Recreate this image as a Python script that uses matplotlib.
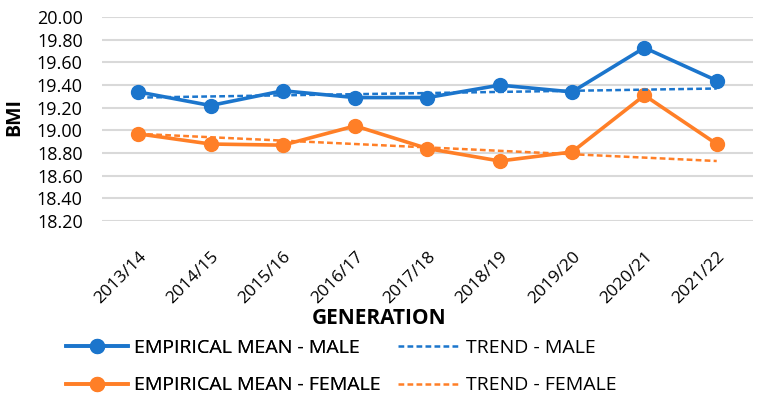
import matplotlib.pyplot as plt
from matplotlib.lines import Line2D

generations = ['2013/14', '2014/15', '2015/16', '2016/17', '2017/18',
               '2018/19', '2019/20', '2020/21', '2021/22']
male_mean = [19.34, 19.22, 19.35, 19.29, 19.29, 19.40, 19.34, 19.73, 19.44]
female_mean = [18.97, 18.88, 18.87, 19.04, 18.84, 18.73, 18.81, 19.31, 18.88]
# trend line values at first and last generation
trend_male = [19.29, 19.37]
trend_female = [18.97, 18.73]

blue = '#1B75CC'
orange = '#FF7F27'
font = ['Open Sans', 'DejaVu Sans']
dash = (0, (2.3, 1.3))

fig = plt.figure(figsize=(7.62, 3.99), dpi=100)
ax = fig.add_axes([0.134, 0.446, 0.854, 0.511])

x = list(range(len(generations)))
ax.plot(x, male_mean, color=blue, lw=2.6, marker='o', ms=10, zorder=3)
ax.plot(x, female_mean, color=orange, lw=2.6, marker='o', ms=10, zorder=3)
ax.plot([x[0], x[-1]], trend_male, color=blue, lw=1.8, ls=dash, zorder=4)
ax.plot([x[0], x[-1]], trend_female, color=orange, lw=1.8, ls=dash, zorder=4)

ax.set_xlim(-0.5, len(generations) - 0.5)
ax.set_ylim(18.2, 20.0)
ax.set_yticks([18.2 + 0.2 * i for i in range(10)])
ax.set_yticklabels(['%.2f' % (18.2 + 0.2 * i) for i in range(10)], family=font, fontsize=13)
ax.set_xticks(x)
ax.set_xticklabels(generations, rotation=45, ha='right', rotation_mode='anchor',
                   family=font, fontsize=12.5)
ax.tick_params(axis='y', length=0, pad=14)
ax.grid(axis='y', color='#d9d9d9', lw=1.5, zorder=0)
ax.tick_params(axis='x', length=0, pad=20)
for s in ax.spines.values():
    s.set_visible(False)

fig.text(14 / 762, 1 - 117 / 399, 'BMI', family=font, fontsize=14, fontweight='bold',
         rotation=90, ha='center', va='center')
fig.text(0.497, 1 - 319 / 399, 'GENERATION', family=font, fontsize=15,
         fontweight='bold', ha='center', va='center')

mean_handles = [
    Line2D([], [], color=blue, lw=2.6, marker='o', ms=10),
    Line2D([], [], color=orange, lw=2.6, marker='o', ms=10),
]
trend_handles = [
    Line2D([], [], color=blue, lw=1.8, ls=dash),
    Line2D([], [], color=orange, lw=1.8, ls=dash),
]
leg_kw = dict(loc='upper left', frameon=False, prop={'family': font, 'size': 14},
              handlelength=3.2, handletextpad=0.3, labelspacing=1.0,
              borderpad=0, borderaxespad=0)
leg1 = fig.legend(mean_handles, ['EMPIRICAL MEAN - MALE', 'EMPIRICAL MEAN - FEMALE'],
                  bbox_to_anchor=(66 / 762, 1 - 339 / 399), **leg_kw)
fig.add_artist(leg1)
fig.legend(trend_handles, ['TREND - MALE', 'TREND - FEMALE'],
           bbox_to_anchor=(398 / 762, 1 - 339 / 399), **leg_kw)

fig.savefig('out.png', dpi=100)
